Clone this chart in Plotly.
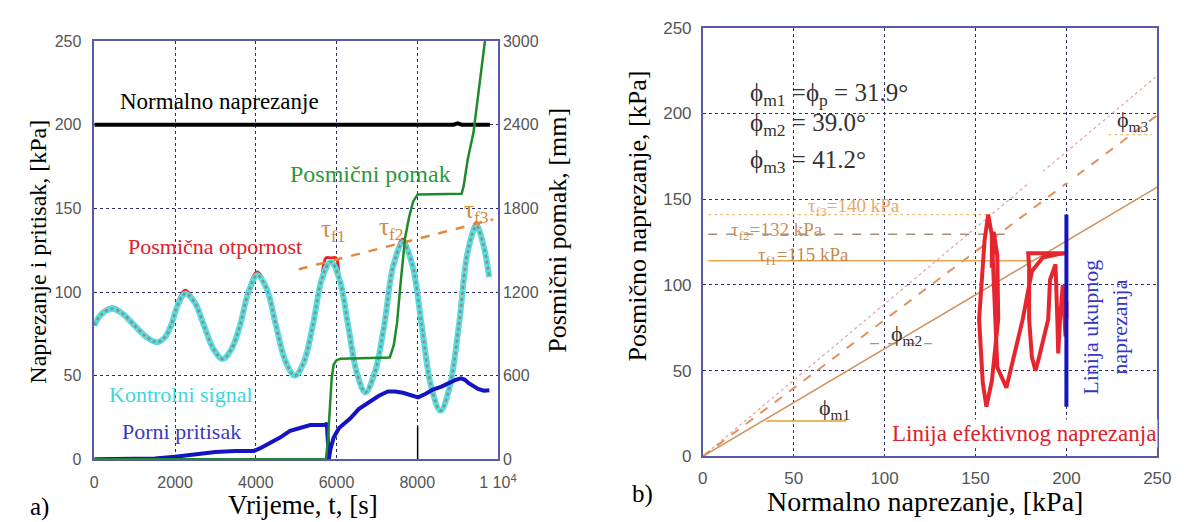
import plotly.graph_objects as go

W, H = 1184, 522

# ---------------- Panel a data ----------------
t_sig = [0, 150, 437, 700, 995, 1300, 1553, 1750, 1900, 2080, 2251, 2480, 2716, 2950, 3181, 3400,
         3609, 3820, 4037, 4270, 4500, 4730, 4967, 5190, 5413, 5640, 5860, 6070, 6288, 6500, 6716,
         6950, 7181, 7410, 7646, 7880, 8111, 8340, 8577, 8800, 9032, 9250, 9466, 9640, 9782]
sig_ctrl = [80, 86, 90, 87, 80, 73, 70, 73, 80, 93, 99, 94, 80, 66, 60, 66,
            80, 100, 110, 102, 80, 59, 50, 58, 80, 108, 118, 108, 80, 52, 40,
            52, 80, 116, 129.5, 116, 80, 44, 29, 43, 80, 124, 139.5, 128, 109]

t_res = [0, 150, 437, 700, 995, 1300, 1553, 1750, 1900, 2080, 2251, 2480, 2716, 2950, 3181, 3400,
         3609, 3820, 4037, 4270, 4500, 4730, 4967, 5190, 5413, 5640, 5740, 5860, 5990, 6070, 6288,
         6500, 6716, 6950, 7181, 7410, 7646, 7880, 8111, 8340, 8577, 8800, 9032, 9250, 9466, 9640, 9782]
tau_res = [80, 87, 91, 88, 80, 72, 70, 72, 80, 95, 101, 95, 80, 65, 60, 65,
           80, 102, 112, 103, 80, 58, 50, 58, 80, 110, 120.4, 120.4, 120.4, 109, 80,
           52, 40, 52, 80, 118, 131.5, 117, 80, 44, 28.5, 43, 80, 126, 141.5, 129, 109]

t_norm = [0, 8900, 9000, 9100, 9800]
sig_norm = [200, 200, 200.8, 200, 200]
t_spike = [8010, 8010]
v_spike = [0, 20]

t_u = [0, 1000, 1500, 2000, 2500, 3000, 3500, 3950, 4100, 4300, 4600, 4850, 5100, 5350, 5600, 5740,
       5760, 5790, 5810, 5850, 5930, 6000, 6065, 6200, 6344, 6550, 6809, 7050, 7274, 7450, 7646,
       7850, 8019, 8200, 8391, 8600, 8763, 8950, 9088, 9180, 9274, 9400, 9507, 9650, 9786]
u_pore = [0, 0, 0.5, 1.5, 3, 4.4, 5, 5, 6.5, 9, 13, 17, 19, 20.5, 20.5, 20.5,
          22, 8, 0, 6, 13, 16, 18.7, 21.5, 24.5, 30, 34, 38, 40.5, 40.5, 39.8,
          38, 37, 39, 41.7, 43.5, 45.5, 47.5, 48.4, 47.5, 45.5, 43.5, 42, 41, 41.3]

t_disp = [0, 5740, 5790, 5840, 5880, 5930, 6000, 6100, 7320, 7420, 7500, 7600, 7700, 7800, 7900,
          8010, 9100, 9150, 9250, 9393, 9539, 9677]
disp_mm = [0, 0, 150, 400, 580, 680, 710, 722, 730, 820, 980, 1300, 1590, 1740, 1850,
           1900, 1905, 1960, 2150, 2344, 2690, 3000]

t_trend = [5065, 9880]
tau_trend = [113.6, 143.4]

x_ticks_a = [0, 2000, 4000, 6000, 8000, 10000]
x_ticktext_a = ["0", "2000", "4000", "6000", "8000", "1 10<sup>4</sup>"]
y_ticks_a = [0, 50, 100, 150, 200, 250]
y2_ticks_a = [0, 600, 1200, 1800, 2400, 3000]

# ---------------- Panel b data ----------------
sig_eff = [200, 200, 200, 199.5, 199, 198, 196.5, 195.5, 195, 194, 191, 190, 185, 183, 181, 179.5,
           179.5, 179, 180, 200, 196, 187, 181, 176, 170, 167, 162, 161, 159.5, 160, 162,
           162.5, 159, 156, 154, 152, 155, 157, 159, 159]
tau_eff = [80, 90, 80, 70, 80, 100, 80, 60, 80, 112, 103, 80, 58, 50, 58, 80,
           110, 118.5, 118.5, 118.5, 118, 116, 108, 80, 52, 40, 52, 80, 116, 131, 117,
           80, 44, 29, 43, 80, 126, 141, 129, 110]

tot_x = [200, 200]
tot_y = [29, 141]

phi1_x, phi1_y = [0, 250], [0, 157]
phi2_x, phi2_y = [0, 250], [0, 199]
phi3_x, phi3_y = [0, 250], [0, 222]

tf3_x, tf3_y = [3, 157], [141, 141]
tf2_x, tf2_y = [3, 166], [129.5, 129.5]
tf1_x, tf1_y = [3, 182], [114, 114]

m1_x, m1_y = [35, 79], [20.6, 20.6]
m2_x, m2_y = [92, 126], [65.7, 65.7]
m3_x, m3_y = [223, 247], [187.6, 187.6]

b_ticks = [0, 50, 100, 150, 200, 250]

SERIF = "Liberation Serif"
SANS = "Liberation Sans"
GRID = "#2e2e6e"
FRAME = "#5a5aa8"

fig = go.Figure()

# panel a traces
fig.add_trace(go.Scatter(x=t_norm, y=sig_norm, mode="lines", line=dict(color="black", width=4),
                         xaxis="x", yaxis="y", showlegend=False))
fig.add_trace(go.Scatter(x=t_spike, y=v_spike, mode="lines", line=dict(color="black", width=1.5),
                         xaxis="x", yaxis="y", showlegend=False))
fig.add_trace(go.Scatter(x=t_res, y=tau_res, mode="lines", line=dict(color="#e3262e", width=3, shape="spline"),
                         xaxis="x", yaxis="y", showlegend=False))
fig.add_trace(go.Scatter(x=t_sig, y=sig_ctrl, mode="lines", line=dict(color="#56dede", width=6, shape="spline"),
                         xaxis="x", yaxis="y", showlegend=False))
fig.add_trace(go.Scatter(x=t_sig, y=sig_ctrl, mode="lines",
                         line=dict(color="#8c8c8c", width=2.5, shape="spline", dash="dot"),
                         xaxis="x", yaxis="y", showlegend=False))
fig.add_trace(go.Scatter(x=t_trend, y=tau_trend, mode="lines",
                         line=dict(color="#e0893c", width=2.5, dash="dash"),
                         xaxis="x", yaxis="y", showlegend=False))
fig.add_trace(go.Scatter(x=t_u, y=u_pore, mode="lines", line=dict(color="#1414c4", width=4),
                         xaxis="x", yaxis="y", showlegend=False))
fig.add_trace(go.Scatter(x=t_disp, y=disp_mm, mode="lines", line=dict(color="#1f8a2c", width=2.5),
                         xaxis="x", yaxis="y2", showlegend=False))

# panel b traces
def bline(x, y, color, width, dash="solid"):
    fig.add_trace(go.Scatter(x=x, y=y, mode="lines", line=dict(color=color, width=width, dash=dash),
                             xaxis="x2", yaxis="y3", showlegend=False))

bline(phi3_x, phi3_y, "#e8a0a0", 1.2, "dot")
bline(phi2_x, phi2_y, "#e3905c", 2, "dash")
bline(phi1_x, phi1_y, "#d0905a", 1.5)
bline(tf3_x, tf3_y, "#f0c080", 1.2, "dot")
bline(tf2_x, tf2_y, "#a89078", 1.5, "dash")
bline(tf1_x, tf1_y, "#e2a650", 1.5)
bline(m1_x, m1_y, "#e0a030", 1.5)
bline(m2_x, m2_y, "#9a9a9a", 1.2, "dash")
bline(m3_x, m3_y, "#f0c080", 1.2, "dot")
bline(sig_eff, tau_eff, "#e6262e", 4)
bline(tot_x, tot_y, "#1515c0", 4)

axis_common = dict(showgrid=True, gridcolor=GRID, gridwidth=1, griddash="dot", zeroline=False,
                   showline=True, linecolor=FRAME, linewidth=1.5, ticks="")

fig.update_layout(
    width=W, height=H, margin=dict(l=0, r=0, t=0, b=0),
    paper_bgcolor="white", plot_bgcolor="white",
    xaxis=dict(domain=[83 / W, 495 / W], range=[0, 10000], tickvals=x_ticks_a, ticktext=x_ticktext_a,
               anchor="y", mirror=True, tickfont=dict(family=SANS, size=16, color="#555"),
               ticklabelstandoff=8, **axis_common),
    yaxis=dict(domain=[1 - 459 / H, 1 - 25 / H], range=[0, 250], tickvals=y_ticks_a, anchor="x",
               mirror=True, tickfont=dict(family=SANS, size=16, color="#555"), ticklabelstandoff=8,
               **axis_common),
    yaxis2=dict(range=[0, 3000], tickvals=y2_ticks_a, overlaying="y", side="right", anchor="x",
                showgrid=False, zeroline=False, showline=False, ticks="",
                tickfont=dict(family=SANS, size=16, color="#555"), ticklabelstandoff=4),
    xaxis2=dict(domain=[704 / W, 1168 / W], range=[0, 250], tickvals=b_ticks, anchor="y3", mirror=True,
                tickfont=dict(family=SANS, size=17, color="#555"), ticklabelstandoff=5, **axis_common),
    yaxis3=dict(domain=[1 - 456 / H, 1 - 11 / H], range=[0, 250], tickvals=b_ticks,
                anchor="x2", mirror=True,
                tickfont=dict(family=SANS, size=17, color="#555"), ticklabelstandoff=6, **axis_common),
)

# white patch in panel b
fig.add_shape(type="rect", xref="x2", yref="y3", x0=165, x1=206, y0=159.5, y1=166,
              fillcolor="white", line=dict(width=0), layer="above")

anns = []
def ann(text, x, y, size, color, angle=0, xanchor="center", family=SERIF, bg=None):
    d = dict(text=text, x=x / W, y=1 - y / H, xref="paper", yref="paper", showarrow=False,
             font=dict(family=family, size=size, color=color), textangle=angle,
             xanchor=xanchor, yanchor="middle")
    if bg:
        d["bgcolor"] = bg
    anns.append(d)

# panel a text
ann("Normalno naprezanje", 211, 88, 23, "black")
ann("Posmični pomak", 365, 163, 24, "#2a9a3a")
ann("Posmična otpornost", 206, 238, 22, "#e0202a")
ann("Kontrolni signal", 171, 392, 22, "#3ad8d8")
ann("Porni pritisak", 172, 430, 22, "#3a3ac0")
ann("τ<sub>f1</sub>", 327, 222, 25, "#d08a40")
ann("τ<sub>f2</sub>", 386, 220, 25, "#d08a40")
ann("τ<sub>f3</sub>", 473, 202, 25, "#d08a40")
ann("Naprezanje i pritisak, [kPa]", 26, 243, 24, "black", angle=-90)
ann("Posmični pomak, [mm]", 556, 221, 26, "black", angle=-90)
ann("Vrijeme, t, [s]", 296, 506, 27, "black")
ann("a)", 27, 508, 25, "black")

# panel b text
ann("ϕ<sub>m1</sub> =ϕ<sub>p</sub> = 31.9°", 750, 80, 25, "#333", xanchor="left")
ann("ϕ<sub>m2</sub> = 39.0°", 750, 112, 25, "#333", xanchor="left")
ann("ϕ<sub>m3</sub> = 41.2°", 750, 150, 25, "#333", xanchor="left")
ann("τ<sub>f3</sub>=140 kPa", 809, 197, 19, "#e8a868", xanchor="left")
ann("τ<sub>f2</sub>=132 kPa", 731, 222, 19, "#c89060", xanchor="left")
ann("τ<sub>f1</sub>=115 kPa", 758, 248, 19, "#c88848", xanchor="left")
ann("ϕ<sub>m1</sub>", 838, 407, 22, "#333")
ann("ϕ<sub>m2</sub>", 912, 330, 22, "#333")
ann("ϕ<sub>m3</sub>", 1143, 108, 22, "#333")
ann("Linija efektivnog naprezanja", 1032, 432, 23, "#e0202a", bg="white")
ann("Linija ukupnog<br>naprezanja", 1115, 322, 22, "#3535c8", angle=-90)
ann("Posmično naprezanje, [kPa]", 637, 207, 26, "black", angle=-90)
ann("Normalno naprezanje, [kPa]", 931, 503, 28, "black")
ann("b)", 643, 495, 25, "black")

fig.update_layout(annotations=anns)
fig.write_html("out.html")
